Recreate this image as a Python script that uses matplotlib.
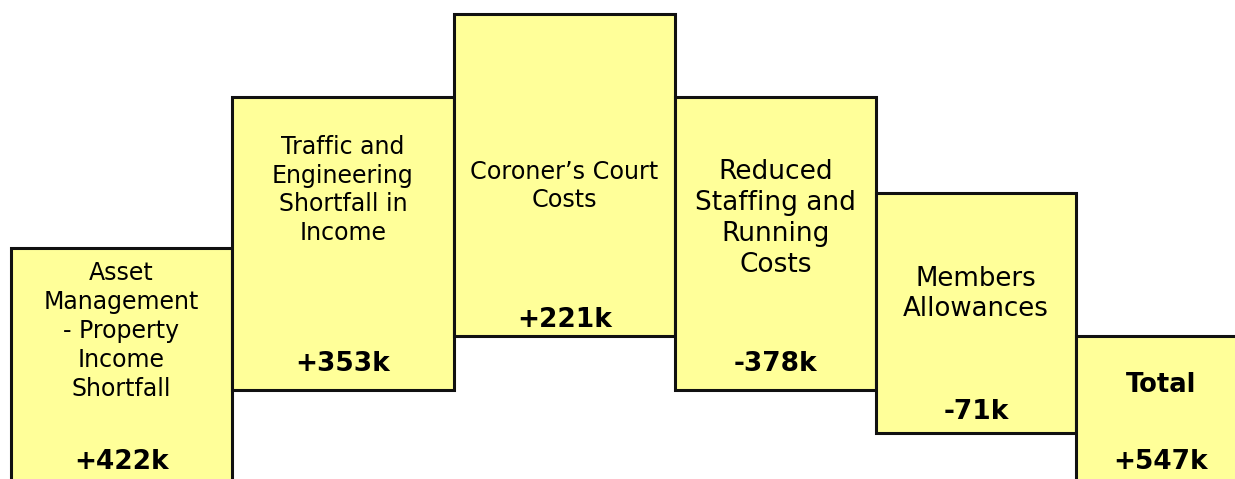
import matplotlib
matplotlib.use("Agg")
import matplotlib.pyplot as plt

# categories and amounts (k)
labels = [
    "Asset\nManagement\n- Property\nIncome\nShortfall",
    "Traffic and\nEngineering\nShortfall in\nIncome",
    "Coroner\u2019s Court\nCosts",
    "Reduced\nStaffing and\nRunning\nCosts",
    "Members\nAllowances",
    "Total",
]
amounts = [422, 353, 221, -378, -71, 547]

# bar extents as drawn in the picture (schematic, not to scale)
bar_top = [231, 382, 465, 382, 286, 143]
bar_bottom = [-30, 89, 143, 89, 46, -30]

# layout
x_edges = [11, 232, 454, 675, 876, 1076, 1320]
label_y = [148, 289, 293, 261, 185, 94]
value_y = [17, 115, 159, 115, 67, 17]
label_size = [17, 17, 17.2, 19, 18.7, 18.5]

dpi = 100
fig = plt.figure(figsize=(1235 / dpi, 479 / dpi), dpi=dpi)
ax = fig.add_axes([0, 0, 1, 1])
ax.set_xlim(0, 1235)
ax.set_ylim(0, 479)
ax.axis("off")

for i in range(len(labels)):
    left = x_edges[i]
    width = x_edges[i + 1] - left
    ax.bar(left, bar_top[i] - bar_bottom[i], width=width, bottom=bar_bottom[i],
           align="edge", color="#FFFF99", edgecolor="#111111", linewidth=2.2)
    cx = left + width / 2
    if i == len(labels) - 1:
        cx = left + 85
    is_total = labels[i] == "Total"
    ax.text(cx, label_y[i], labels[i], ha="center", va="center",
            fontsize=label_size[i], fontweight="bold" if is_total else "normal",
            linespacing=1.25, color="black")
    ax.text(cx, value_y[i], f"{amounts[i]:+d}k", ha="center", va="center",
            fontsize=19, fontweight="bold", color="black")

plt.savefig("out.png", dpi=dpi)
